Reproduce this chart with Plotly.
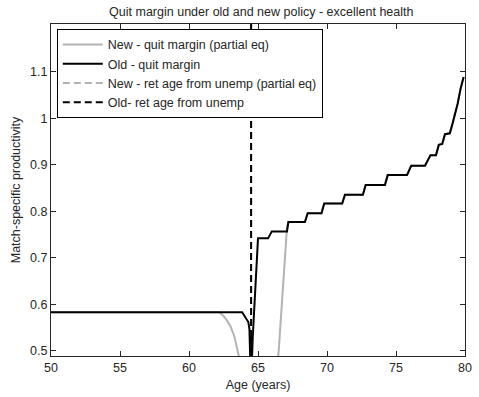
import plotly.graph_objects as go

# Quit margin under the old policy (age in years, match-specific productivity)
old_age = [50.0, 63.85, 64.3, 64.38, 64.45, 64.5, 64.55, 64.62, 65.0, 65.73, 66.0,
           67.1, 67.2, 68.4, 68.6, 69.6, 69.8, 71.1, 71.3, 72.6, 72.8, 74.2, 74.4,
           75.8, 76.1, 77.1, 77.5, 77.9, 78.1, 78.35, 78.55, 78.9, 79.1, 79.3,
           79.47, 79.68, 79.9]
old_margin = [0.583, 0.583, 0.562, 0.547, 0.47, 0.54, 0.47, 0.53, 0.742, 0.742, 0.757,
              0.757, 0.777, 0.777, 0.796, 0.796, 0.817, 0.817, 0.836, 0.836, 0.857, 0.857, 0.878,
              0.878, 0.898, 0.898, 0.921, 0.921, 0.943, 0.945, 0.966, 0.968, 0.989, 1.01,
              1.032, 1.064, 1.089]

# Quit margin under the new policy (partial equilibrium); coincides with the old one after 67
new_age_head = [50.0, 62.2, 62.5, 62.7, 63.0, 63.3, 63.6, 63.8, 66.3, 66.5, 67.1]
new_margin_head = [0.583, 0.583, 0.575, 0.568, 0.553, 0.53, 0.49, 0.43, 0.43, 0.5, 0.765]
new_age = new_age_head + old_age[12:]
new_margin = new_margin_head + old_margin[12:]

# Retirement age from unemployment
ret_age_new = 64.5
ret_age_old = 64.5

x_ticks = [50, 55, 60, 65, 70, 75, 80]
y_ticks = [0.5, 0.6, 0.7, 0.8, 0.9, 1.0, 1.1]
y_tick_text = ["0.5", "0.6", "0.7", "0.8", "0.9", "1", "1.1"]

x_range = [50, 80]
y_range = [0.489, 1.203]

FONT = "Liberation Sans, Arial, sans-serif"
INK = "#262626"
GRAY = "#b3b3b3"

fig = go.Figure()
fig.add_trace(go.Scatter(x=new_age, y=new_margin, mode="lines",
                         line=dict(color=GRAY, width=2),
                         name="New - quit margin (partial eq)"))
fig.add_trace(go.Scatter(x=old_age, y=old_margin, mode="lines",
                         line=dict(color="black", width=2),
                         name="Old - quit margin"))
fig.add_trace(go.Scatter(x=[ret_age_new, ret_age_new], y=[y_range[0] - 1, y_range[1] + 1],
                         mode="lines", line=dict(color=GRAY, width=2, dash="7px,4px"),
                         name="New - ret age from unemp (partial eq)"))
fig.add_trace(go.Scatter(x=[ret_age_old, ret_age_old], y=[y_range[0] - 1, y_range[1] + 1],
                         mode="lines", line=dict(color="black", width=2, dash="7px,4px"),
                         name="Old- ret age from unemp"))

axis_common = dict(
    showline=True, linecolor=INK, linewidth=1, mirror="allticks",
    ticks="inside", ticklen=5, tickcolor=INK, tickwidth=1,
    showgrid=False, zeroline=False,
    tickfont=dict(family=FONT, size=12.5, color=INK),
)

fig.update_layout(
    width=479, height=397,
    margin=dict(l=51, r=7, t=24, b=40),
    paper_bgcolor="white", plot_bgcolor="white",
    title=dict(text="Quit margin under old and new policy - excellent health",
               x=0.5455, xanchor="center", y=1 - 12 / 397, yanchor="middle",
               font=dict(family=FONT, size=12.5, color=INK)),
    xaxis=dict(range=x_range, tickvals=x_ticks,
               title=dict(text="Age (years)", font=dict(family=FONT, size=12.5, color=INK),
                          standoff=6),
               **axis_common),
    yaxis=dict(range=y_range, tickvals=y_ticks, ticktext=y_tick_text,
               title=dict(text="Match-specific productivity",
                          font=dict(family=FONT, size=12.5, color=INK), standoff=6),
               **axis_common),
    legend=dict(x=0.014, y=0.985, xanchor="left", yanchor="top",
                bgcolor="white", bordercolor="black", borderwidth=1,
                font=dict(family=FONT, size=12.5, color=INK),
                itemwidth=40, tracegroupgap=0),
    showlegend=True,
)

fig.write_html("out.html")
